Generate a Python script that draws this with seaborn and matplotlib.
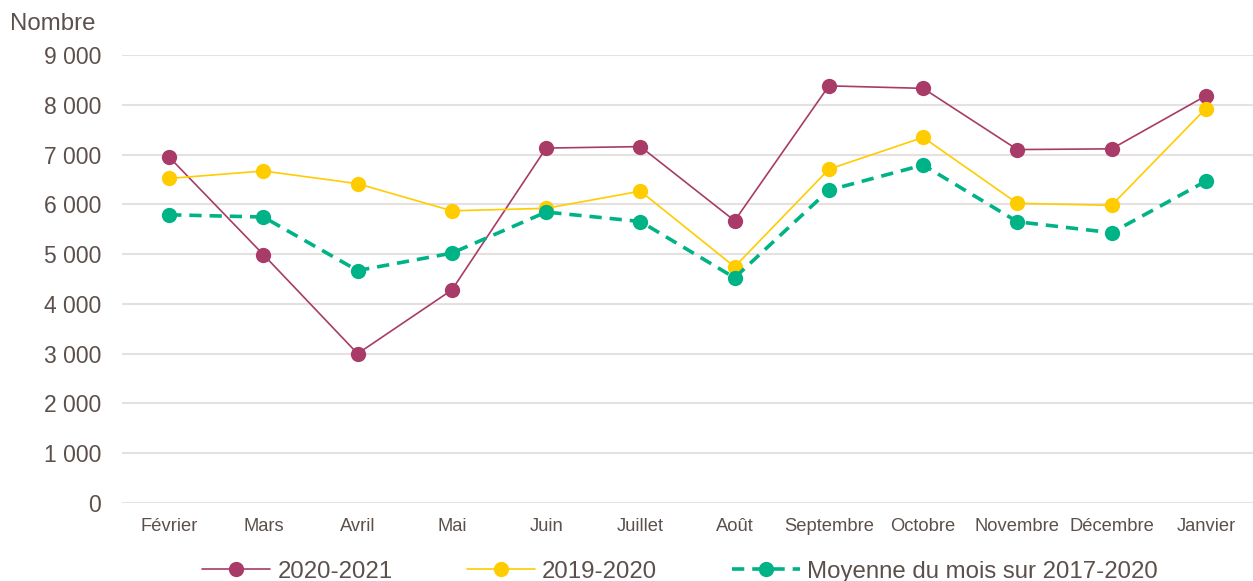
import matplotlib
matplotlib.use("Agg")
import matplotlib.pyplot as plt
import seaborn as sns
import pandas as pd
import numpy as np

months = ["Février", "Mars", "Avril", "Mai", "Juin", "Juillet", "Août",
          "Septembre", "Octobre", "Novembre", "Décembre", "Janvier"]
s2020_2021 = [6950, 4990, 3000, 4280, 7130, 7160, 5670, 8380, 8330, 7100, 7115, 8180]
s2019_2020 = [6520, 6670, 6415, 5870, 5920, 6265, 4745, 6705, 7345, 6020, 5980, 7925]
s_moyenne = [5790, 5745, 4670, 5020, 5845, 5655, 4525, 6285, 6790, 5650, 5430, 6465]
series_names = ["2020-2021", "2019-2020", "Moyenne du mois sur 2017-2020"]
y_ticks = [0, 1000, 2000, 3000, 4000, 5000, 6000, 7000, 8000, 9000]

colors = ["#A83B67", "#FFCC00", "#00B386"]
text_color = "#5B504C"
grid_color = "#E6E1E1"

sns.set_theme(style="white")
plt.rcParams["font.family"] = ["Liberation Sans", "DejaVu Sans"]

fig = plt.figure(figsize=(12.53, 5.81), dpi=100)
ax = fig.add_axes([122 / 1253, (581 - 503) / 581, (1253 - 122) / 1253, 448 / 581])

pos = np.arange(len(months))
styles = [dict(lw=1.2, ls="-"), dict(lw=1.2, ls="-"), dict(lw=2.6, ls=(0, (3.4, 2.2)))]
for name, vals, col, st in zip(series_names, [s2020_2021, s2019_2020, s_moyenne], colors, styles):
    df = pd.DataFrame({"x": pos, "y": vals})
    sns.lineplot(data=df, x="x", y="y", ax=ax, color=col, linewidth=st["lw"],
                 linestyle=st["ls"], marker="o", markersize=11, markeredgewidth=0,
                 markerfacecolor=col, label=name, sort=False, zorder=3)

ax.set_xlim(-0.5, 11.5)
ax.set_ylim(0, 9000)
ax.set_yticks(y_ticks)
ax.set_yticklabels([f"{v:,}".replace(",", " ") for v in y_ticks])
ax.set_xticks(pos)
ax.set_xticklabels(months)
ax.tick_params(axis="x", labelsize=13.2, colors=text_color, length=0, pad=11)
ax.tick_params(axis="y", labelsize=16.5, colors=text_color, length=0, pad=15)
ax.set_xlabel("")
ax.set_ylabel("")
for sp in ax.spines.values():
    sp.set_visible(False)
ax.yaxis.grid(True, color=grid_color, linewidth=1.5, zorder=0)
ax.xaxis.grid(False)
ax.set_axisbelow(True)

handles, labels = ax.get_legend_handles_labels()
ax.get_legend().remove()
fig.legend(handles, labels, loc="lower center", bbox_to_anchor=(0.5427, -0.04), ncol=3,
           frameon=False, fontsize=17.3, handlelength=2.83, handletextpad=0.3,
           columnspacing=3.1, labelcolor=text_color)

fig.text(10 / 1253, 1 - 24 / 581, "Nombre", fontsize=17.3, color=text_color,
         ha="left", va="center")

fig.savefig("out.png", dpi=100)
